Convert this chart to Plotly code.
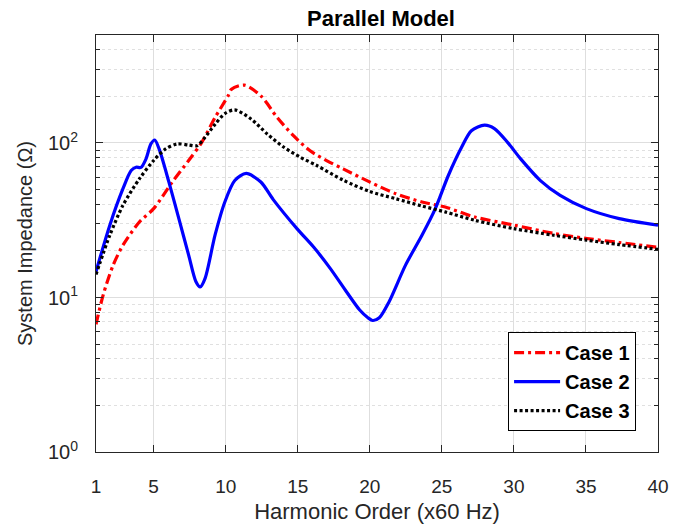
import plotly.graph_objects as go

# Harmonic order (x60 Hz) and impedance magnitude (ohm) for each case
case1_h = [1, 1.5, 2.19, 2.87, 4.01, 5.0, 6.29, 7.43, 8.34, 9.26, 10.17, 10.4, 11.3,
           12.44, 13.58, 14.72, 15.86, 17.0, 18.15, 19.98, 21.8, 23.62, 25.23, 27.28,
           30.0, 32.75, 35.07, 37.31, 40]
case1_z = [6.7, 10.4, 16.2, 21.8, 30.8, 37.6, 55.8, 77, 101, 146, 202, 223, 237,
           202, 146, 111, 89, 77, 68, 56, 47, 41.5, 38.5, 33.2, 29.4, 26, 24.1,
           22.7, 21.1]

case2_h = [1, 1.96, 2.87, 3.44, 3.78, 4.12, 4.47, 4.81, 5.08, 5.38, 6.06, 6.75, 7.43,
           7.93, 8.23, 8.57, 9.26, 9.94, 10.63, 11.42, 12.44, 13.3, 14.96, 16.1,
           17.24, 18.38, 19.3, 19.87, 20.2, 20.66, 21.34, 22.48, 23.62, 24.54, 25.45,
           26.37, 27.05, 27.96, 28.65, 29.56, 30.47, 31.84, 33.21, 35.03, 37.31, 40]
case2_z = [14.7, 29.4, 50.6, 66.4, 69.7, 69.5, 78.9, 98.6, 104.5, 91.5, 55.8, 32.4,
           18.8, 12.7, 11.7, 13.3, 25.3, 41.5, 57.2, 63.5, 55.9, 43, 27.8, 21.2,
           15.5, 10.9, 8.3, 7.4, 7.1, 7.4, 9.4, 16.2, 25.3, 37.5, 61.6, 93.8, 120,
           130.5, 124, 101, 78.9, 57.1, 45.8, 37.6, 32.4, 29.4]

case3_h = [1, 1.96, 2.87, 4.01, 5.0, 5.83, 6.63, 7.43, 8.0, 8.57, 9.26, 9.94, 10.62,
           11.76, 12.9, 14.04, 15.18, 16.32, 18.15, 19.98, 21.8, 23.62, 25.23, 27.28,
           30.0, 32.75, 35.07, 37.31, 40]
case3_z = [14.1, 25.3, 39.5, 58.6, 77, 91.5, 98.6, 97, 96, 109, 132, 155, 164,
           143, 114, 93.8, 80.9, 71.5, 57.5, 48.6, 43.6, 39.1, 35.8, 31.6, 27.9,
           25.3, 23.5, 22, 20.5]

x_ticks = [1, 5, 10, 15, 20, 25, 30, 35, 40]
y_ticks = [1, 10, 100]
y_tick_text = ["10<sup>0</sup>", "10<sup>1</sup>", "10<sup>2</sup>"]
y_minor = [m * 10 ** d for d in range(3) for m in range(2, 10) if m * 10 ** d < 500]

FONT = "Liberation Sans, Arial, Helvetica, sans-serif"
AXIS_COLOR = "#262626"

fig = go.Figure()
fig.add_trace(go.Scatter(x=case1_h, y=case1_z, mode="lines", name="Case 1",
                         line=dict(color="#ff0000", width=3.2, dash="10px,4px,3px,4px",
                                   shape="spline", smoothing=0.8)))
fig.add_trace(go.Scatter(x=case2_h, y=case2_z, mode="lines", name="Case 2",
                         line=dict(color="#0000ff", width=3.2,
                                   shape="spline", smoothing=0.8)))
fig.add_trace(go.Scatter(x=case3_h, y=case3_z, mode="lines", name="Case 3",
                         line=dict(color="#000000", width=3.2, dash="3px,2.5px",
                                   shape="spline", smoothing=0.8)))

fig.update_layout(
    width=681, height=531,
    margin=dict(l=96, r=15, t=35, b=78),
    paper_bgcolor="white", plot_bgcolor="white",
    font=dict(family=FONT, color=AXIS_COLOR, size=18),
    title=dict(text="<b>Parallel Model</b>", x=381 / 681, xanchor="center",
               y=1 - 18 / 531, yanchor="middle",
               font=dict(family=FONT, size=22, color="black")),
    showlegend=True,
    legend=dict(x=0.961, y=0.05, xanchor="right", yanchor="bottom",
                bgcolor="white", bordercolor="black", borderwidth=1,
                font=dict(family=FONT, size=20, color="black", weight="bold"),
                itemwidth=46, tracegroupgap=0),
)

fig.update_xaxes(
    range=[1, 40], tickvals=x_ticks, ticktext=[str(v) for v in x_ticks],
    showline=True, linecolor=AXIS_COLOR, linewidth=1, mirror="ticks",
    ticks="inside", ticklen=7, tickcolor=AXIS_COLOR, ticklabelstandoff=17,
    showgrid=True, gridcolor="#dedede", gridwidth=1, zeroline=False,
    tickfont=dict(size=19, color=AXIS_COLOR),
    title=dict(text="Harmonic Order (x60 Hz)", font=dict(size=22, color=AXIS_COLOR),
               standoff=7),
)

fig.update_yaxes(
    type="log", range=[0, 2.69897],
    tickvals=y_ticks, ticktext=y_tick_text,
    showline=True, linecolor=AXIS_COLOR, linewidth=1, mirror="ticks",
    ticks="inside", ticklen=7, tickcolor=AXIS_COLOR, ticklabelstandoff=13,
    showgrid=True, gridcolor="#dedede", gridwidth=1, zeroline=False,
    tickfont=dict(size=20, color=AXIS_COLOR),
    minor=dict(tickmode="array", tickvals=y_minor, ticks="inside", ticklen=4,
               tickcolor=AXIS_COLOR, showgrid=True, gridcolor="#e0e0e0",
               griddash="dot", gridwidth=1),
    title=dict(text="System Impedance (Ω)", font=dict(size=20, color=AXIS_COLOR),
               standoff=9),
)

fig.write_html("out.html")
